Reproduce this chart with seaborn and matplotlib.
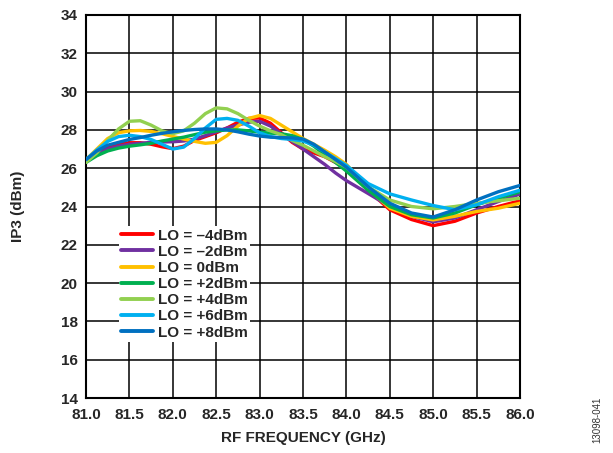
import numpy as np
import pandas as pd
import matplotlib
matplotlib.use("Agg")
import matplotlib.pyplot as plt
import seaborn as sns

freq = [81.0, 81.125, 81.25, 81.375, 81.5, 81.625, 81.75, 81.875,
        82.0, 82.125, 82.25, 82.375, 82.5, 82.625, 82.75, 82.875,
        83.0, 83.125, 83.25, 83.375, 83.5, 83.625, 83.75, 83.875,
        84.0, 84.25, 84.5, 84.75, 85.0, 85.25, 85.5, 85.75, 86.0]

lo_m4 = [26.45, 26.85, 27.1, 27.25, 27.33, 27.33, 27.25, 27.12,
         27.02, 27.15, 27.45, 27.65, 27.85, 28.1, 28.4, 28.6,
         28.62, 28.35, 27.85, 27.35, 27.0, 26.8, 26.6, 26.3,
         25.97, 24.85, 23.83, 23.32, 23.0, 23.23, 23.66, 24.0, 24.3]
lo_m2 = [26.4, 26.75, 27.0, 27.15, 27.25, 27.3, 27.35, 27.37,
         27.38, 27.42, 27.52, 27.7, 27.9, 28.1, 28.25, 28.4,
         28.45, 28.2, 27.8, 27.4, 27.0, 26.6, 26.2, 25.75,
         25.35, 24.68, 24.0, 23.49, 23.2, 23.4, 23.83, 24.26, 24.65]
lo_0 = [26.45, 27.0, 27.55, 27.85, 27.95, 27.97, 27.92, 27.8,
        27.66, 27.52, 27.4, 27.3, 27.35, 27.7, 28.2, 28.6,
        28.75, 28.6, 28.25, 27.9, 27.55, 27.25, 26.94, 26.6,
        26.2, 24.94, 23.91, 23.49, 23.3, 23.49, 23.74, 23.91, 24.17]
lo_p2 = [26.3, 26.65, 26.9, 27.05, 27.15, 27.22, 27.3, 27.42,
         27.52, 27.62, 27.75, 27.88, 27.95, 28.0, 28.0, 27.95,
         27.88, 27.83, 27.8, 27.7, 27.5, 27.15, 26.7, 26.3,
         25.85, 24.85, 24.0, 23.57, 23.4, 23.66, 24.09, 24.43, 24.77]
lo_p4 = [26.3, 26.8, 27.45, 28.05, 28.45, 28.48, 28.25, 27.95,
         27.8, 27.95, 28.35, 28.85, 29.15, 29.1, 28.85, 28.5,
         28.2, 27.95, 27.75, 27.45, 27.2, 26.9, 26.6, 26.35,
         26.05, 25.03, 24.34, 24.0, 23.88, 24.0, 24.17, 24.3, 24.43]
lo_p6 = [26.45, 26.95, 27.4, 27.65, 27.72, 27.65, 27.5, 27.25,
         27.0, 27.1, 27.55, 28.1, 28.55, 28.6, 28.5, 28.2,
         27.85, 27.65, 27.55, 27.5, 27.42, 27.2, 26.85, 26.5,
         26.15, 25.2, 24.66, 24.34, 24.05, 23.83, 24.09, 24.51, 24.85]
lo_p8 = [26.45, 26.9, 27.2, 27.35, 27.5, 27.6, 27.72, 27.82,
         27.9, 27.97, 28.02, 28.05, 28.05, 28.0, 27.9, 27.78,
         27.68, 27.62, 27.6, 27.58, 27.52, 27.25, 26.85, 26.45,
         26.05, 25.03, 24.17, 23.66, 23.45, 23.83, 24.34, 24.77, 25.1]

labels = ["LO = \u20134dBm", "LO = \u20132dBm", "LO = 0dBm", "LO = +2dBm",
          "LO = +4dBm", "LO = +6dBm", "LO = +8dBm"]
colors = ["#FF0000", "#7030A0", "#FFC000", "#00B050", "#92D050", "#00B0F0", "#0070C0"]
series = [lo_m4, lo_m2, lo_0, lo_p2, lo_p4, lo_p6, lo_p8]

xticks = [81.0, 81.5, 82.0, 82.5, 83.0, 83.5, 84.0, 84.5, 85.0, 85.5, 86.0]
yticks = [14, 16, 18, 20, 22, 24, 26, 28, 30, 32, 34]

rows = []
for lab, vals in zip(labels, series):
    for f, v in zip(freq, vals):
        rows.append({"freq": f, "ip3": v, "lo": lab})
df = pd.DataFrame(rows)

sns.set_style("white")
plt.rcParams["font.family"] = ["Liberation Sans", "DejaVu Sans"]
plt.rcParams["font.weight"] = "bold"

fig = plt.figure(figsize=(6.13, 4.53), dpi=100)
ax = fig.add_axes([86 / 613, 1 - 398 / 453, (520 - 86) / 613, (398 - 15) / 453])

sns.lineplot(data=df, x="freq", y="ip3", hue="lo", hue_order=labels,
             palette=dict(zip(labels, colors)), linewidth=2.4, sort=False,
             estimator=None, ax=ax, zorder=3)
for ln in ax.get_lines():
    ln.set_solid_joinstyle("round")
    ln.set_solid_capstyle("round")

ax.set_xlim(81.0, 86.0)
ax.set_ylim(14, 34)
ax.set_xticks(xticks)
ax.set_yticks(yticks)
ax.set_xticklabels([f"{t:.1f}" for t in xticks], fontsize=11, fontweight="bold")
ax.set_yticklabels([str(t) for t in yticks], fontsize=11, fontweight="bold")
ax.grid(True, color="black", linewidth=1.1)
ax.set_axisbelow(True)
for s in ax.spines.values():
    s.set_color("black")
    s.set_linewidth(1.5)
ax.tick_params(axis="x", length=0, pad=7)
ax.tick_params(axis="y", length=0, pad=6)
ax.set_xlabel("RF FREQUENCY (GHz)", fontsize=11, fontweight="bold", labelpad=7)
ax.set_ylabel("IP3 (dBm)", fontsize=11, fontweight="bold", labelpad=26)

leg = ax.legend(loc="upper left", bbox_to_anchor=(0.075, 0.448), frameon=True,
                fontsize=11, handlelength=2.1, handletextpad=0.35,
                labelspacing=0.14, borderpad=0.15, borderaxespad=0.0)
leg.get_frame().set_facecolor("white")
leg.get_frame().set_edgecolor("none")
leg.get_frame().set_alpha(1.0)
leg.set_zorder(5)
for t in leg.get_texts():
    t.set_fontweight("bold")
for h in leg.get_lines():
    h.set_linewidth(2.8)

fig.text(597 / 613, 1 - 420 / 453, "13098-041", rotation=90, fontsize=7,
         color="#333333", fontweight="normal", ha="center", va="center")

fig.savefig("out.png", dpi=100)
